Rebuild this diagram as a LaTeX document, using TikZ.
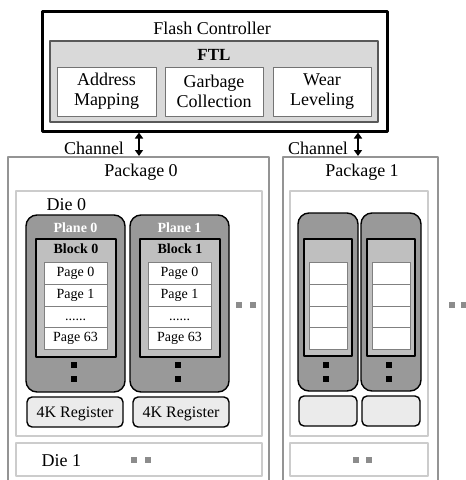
\documentclass[tikz,border=0pt]{standalone}
\usepackage{fontspec}
\setmainfont{Liberation Serif}
\usetikzlibrary{arrows.meta}
\begin{document}
\begin{tikzpicture}[x=1pt, y=-1pt, font=\fontsize{18}{20}\selectfont, line join=round, >={Triangle[length=6pt,width=8pt]},
  every node/.style={inner sep=0pt},
  wh/.style 2 args={minimum width=#1pt, minimum height=#2pt},
  ctrl/.style={draw, line width=3pt},
  ftl/.style={draw=black!65, fill=black!15, line width=1.2pt},
  func/.style={draw=black!55, fill=white, line width=1pt, align=center},
  pkg/.style={draw=black!42, line width=2pt},
  die/.style={draw=black!20, line width=2pt},
  plane/.style={draw, fill=black!40, line width=1.4pt, rounded corners=11pt},
  blk/.style={draw, fill=black!25, line width=1.4pt},
  pg/.style={draw=black!50, fill=white, line width=.8pt, font=\fontsize{14}{16}\selectfont, text height=10pt, text depth=3pt},
  reg/.style={draw, fill=black!8, line width=1.4pt, rounded corners=5pt, font=\fontsize{16}{18}\selectfont, text height=12pt, text depth=1pt},
  dot/.style={fill, minimum size=6pt},
  gdot/.style={fill=black!45, minimum size=6pt},
  chan/.style={<->, line width=2.2pt}]
\def\rowdots{......}
\useasboundingbox (0,0) rectangle (466,480);
% controller
\node[ctrl, wh={345}{120}] (fc) at (214.5,71) {};
\node[anchor=base] (fctxt) at (212,34.3) {Flash Controller};
\node[ftl, wh={328}{81}] (ftl) at (214,81.5) {};
\node[anchor=base, font=\fontsize{17}{20}\selectfont\bfseries] (ftltxt) at (214,60) {FTL};
\node[func, wh={99}{49}] (am) at (106.5,91.5) {Address\\Mapping};
\node[func, wh={98}{49}] (gc) at (214,91.5) {Garbage\\Collection};
\node[func, wh={98}{49}] (wl) at (322,91.5) {Wear\\Leveling};
% packages
\node[pkg, wh={261}{345}] (pk0) at (138.5,329.5) {};
\node[pkg, wh={155}{345}] (pk1) at (360.5,329.5) {};
\node[anchor=base] (pk0txt) at (141,176.5) {Package 0};
\node[anchor=base] (pk1txt) at (362,176.5) {Package 1};
\coordinate (ch0) at (139,0);
\coordinate (ch1) at (358,0);
\draw[chan] (fc.south -| ch0) -- (pk0.north -| ch0);
\draw[chan] (fc.south -| ch1) -- (pk1.north -| ch1);
\node[anchor=base] (chtxt0) at (94,154) {Channel};
\node[anchor=base] (chtxt1) at (318,154) {Channel};
% dies
\node[die, wh={246}{245}] (d00) at (139,313.5) {};
\node[anchor=base west] (d00txt) at (46.5,210) {Die 0};
\node[die, wh={246}{33}] (d01) at (139,459.5) {};
\node[anchor=base west] (d01txt) at (41.5,466) {Die 1};
\node[die, wh={138}{245}] (d10) at (359,313.5) {};
\node[die, wh={138}{33}] (d11) at (359,459.5) {};
% planes of package 0
\foreach \i/\x/\r in {0/0/0,1/104/106}{
  \node[plane, wh={99}{177}] (pl\i) at (75.5+\x,303.5) {};
  \node[anchor=base, text=white, font=\fontsize{14}{16}\selectfont\bfseries] (pltxt\i) at (75.5+\x,232) {Plane \i};
  \node[blk, wh={80}{118}] (blk\i) at (76+\x,298) {};
  \node[anchor=base, font=\fontsize{14}{16}\selectfont\bfseries] (blktxt\i) at (76+\x,253) {Block \i};
  \foreach \t [count=\j] in {Page 0,Page 1,\rowdots,Page 63}
    \node[pg, wh={63}{21.7}] (pg\i-\j) at (75.5+\x,251.65+21.7*\j) {\t};
  \node[dot] (dt\i-a) at (74+\x,365) {};
  \node[dot] (dt\i-b) at (74+\x,379) {};
  \node[reg, wh={96}{30}] (reg\i) at (75+\r,412) {4K Register};
}
% planes of package 1
\foreach \i/\x in {0/0,1/63}{
  \node[plane, wh={60}{178}] (ql\i) at (328+\x,302) {};
  \node[blk, wh={48}{117}] (qb\i) at (328+\x,297.5) {};
  \foreach \j in {1,...,4}
    \node[pg, wh={38}{21.7}] (qp\i-\j) at (328+\x,251.65+21.7*\j) {};
  \node[dot] (qd\i-a) at (326+\x,365) {};
  \node[dot] (qd\i-b) at (326+\x,379) {};
  \node[reg, wh={58}{30}] (qr\i) at (328+\x,411) {};
}
% more dies / planes
\node[gdot] (gd0) at (238.5,304.5) {};
\node[gdot] (gd1) at (252.5,304.5) {};
\node[gdot] (gd2) at (451.5,304.5) {};
\node[gdot] (gd3) at (463.5,304.5) {};
\node[gdot] (gd4) at (133.5,460) {};
\node[gdot] (gd5) at (147.5,460) {};
\node[gdot] (gd6) at (355.5,460) {};
\node[gdot] (gd7) at (368.5,460) {};
\end{tikzpicture}
\end{document}
